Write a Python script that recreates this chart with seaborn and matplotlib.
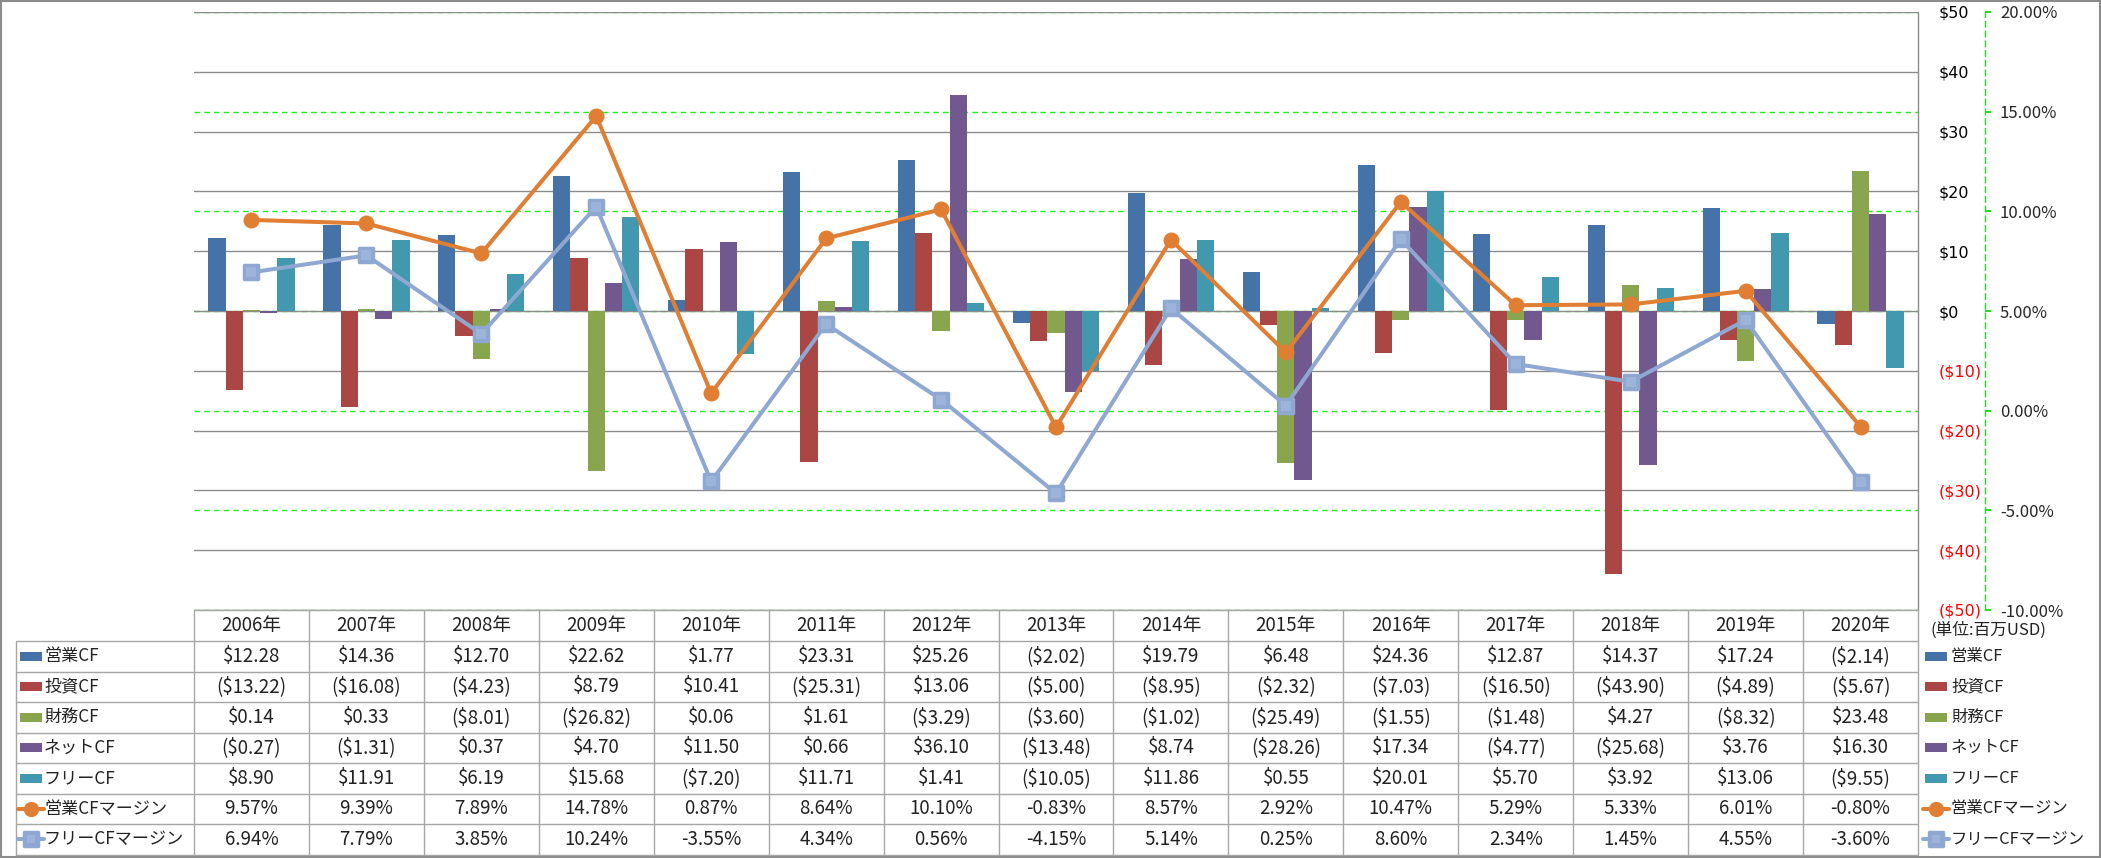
import numpy as np
import pandas as pd
import matplotlib
matplotlib.use("Agg")
import matplotlib.pyplot as plt
import seaborn as sns
from matplotlib.patches import Rectangle
from matplotlib.lines import Line2D
from matplotlib.markers import MarkerStyle

# ---------------- data ----------------
years = [f"{y}年" for y in range(2006, 2021)]
series_names = ["営業CF", "投資CF", "財務CF", "ネットCF", "フリーCF"]
op_cf = [12.28, 14.36, 12.70, 22.62, 1.77, 23.31, 25.26, -2.02, 19.79, 6.48, 24.36, 12.87, 14.37, 17.24, -2.14]
inv_cf = [-13.22, -16.08, -4.23, 8.79, 10.41, -25.31, 13.06, -5.00, -8.95, -2.32, -7.03, -16.50, -43.90, -4.89, -5.67]
fin_cf = [0.14, 0.33, -8.01, -26.82, 0.06, 1.61, -3.29, -3.60, -1.02, -25.49, -1.55, -1.48, 4.27, -8.32, 23.48]
net_cf = [-0.27, -1.31, 0.37, 4.70, 11.50, 0.66, 36.10, -13.48, 8.74, -28.26, 17.34, -4.77, -25.68, 3.76, 16.30]
free_cf = [8.90, 11.91, 6.19, 15.68, -7.20, 11.71, 1.41, -10.05, 11.86, 0.55, 20.01, 5.70, 3.92, 13.06, -9.55]
margin_names = ["営業CFマージン", "フリーCFマージン"]
op_margin = [9.57, 9.39, 7.89, 14.78, 0.87, 8.64, 10.10, -0.83, 8.57, 2.92, 10.47, 5.29, 5.33, 6.01, -0.80]
free_margin = [6.94, 7.79, 3.85, 10.24, -3.55, 4.34, 0.56, -4.15, 5.14, 0.25, 8.60, 2.34, 1.45, 4.55, -3.60]
left_ticks = list(range(-50, 51, 10))
right_ticks = list(range(-10, 21, 5))
unit_label = "(単位:百万USD)"

bar_colors = ["#4572A7", "#AA4643", "#89A54E", "#71588F", "#4198AF"]
line_colors = ["#E07E33", "#8EA8D2"]
square_inner = "#9DB4DA"

# ---------------- figure ----------------
sns.set_theme(style="white")
plt.rcParams["font.family"] = ["Noto Sans CJK JP", "DejaVu Sans"]

W, H = 2101, 858
fig = plt.figure(figsize=(W / 100, H / 100), dpi=100)
fig.patch.set_facecolor("white")
L, R, T, B = 194, 1918, 12, 610
ax = fig.add_axes([L / W, 1 - B / H, (R - L) / W, (B - T) / H])
ax3 = ax.twinx()
ax2 = ax.twinx()
ax3.set_zorder(0)
ax.set_zorder(1)
ax2.set_zorder(2)
ax.patch.set_visible(False)
ax2.patch.set_visible(False)
ax3.patch.set_visible(False)

# bars
all_series = [op_cf, inv_cf, fin_cf, net_cf, free_cf]
df = pd.DataFrame({"年": years * 5,
                   "系列": [s for s in series_names for _ in years],
                   "値": [v for s in all_series for v in s]})
sns.barplot(data=df, x="年", y="値", hue="系列", order=years, hue_order=series_names,
            palette=bar_colors, width=0.75, saturation=1, errorbar=None,
            linewidth=0, legend=False, ax=ax)

# lines
xs = np.arange(len(years))
sq = MarkerStyle("s", joinstyle="round")
sns.lineplot(x=xs, y=op_margin, ax=ax2, color=line_colors[0], marker="o", markersize=11.5,
             linewidth=2.9, markeredgewidth=0)
sns.lineplot(x=xs, y=free_margin, ax=ax2, color=line_colors[1], marker=sq, markersize=10.5,
             linewidth=2.9, markeredgewidth=2.5, markeredgecolor=line_colors[1])
ax2.plot(xs, free_margin, linestyle="none", marker="s", markersize=6.5,
         color=square_inner, markeredgewidth=0)

ax.set_xlim(-0.5, len(years) - 0.5)

# primary axis (dollars, on right)
ax.set_ylim(-50, 50)
ax.set_yticks(left_ticks)
ax.set_yticklabels([f"${v}" if v >= 0 else f"(${-v})" for v in left_ticks])
ax.yaxis.tick_right()
ax.tick_params(axis="y", length=0, pad=15, labelsize=11.5)
for lab, v in zip(ax.get_yticklabels(), left_ticks):
    lab.set_fontfamily("DejaVu Sans")
    lab.set_color("#FF0000" if v < 0 else "black")
ax.tick_params(axis="x", length=0, labelbottom=False)
ax.set_xlabel("")
ax.set_ylabel("")
ax.grid(axis="y", color="#8C8C8C", linewidth=1)
ax.grid(axis="x", visible=False)
ax.set_axisbelow(True)
for s in ["left", "top", "bottom"]:
    ax.spines[s].set_visible(False)
ax.spines["right"].set_color("#8C8C8C")
ax.spines["right"].set_linewidth(1)

# secondary axis (percent) with green dashed grid
ax3.set_ylim(-10, 20)
ax3.set_yticks(right_ticks)
ax3.set_yticklabels([f"{v:.2f}%" for v in right_ticks])
ax3.tick_params(axis="y", direction="out", length=4, color="#00DD00", pad=7, labelsize=12)
for lab, v in zip(ax3.get_yticklabels(), right_ticks):
    lab.set_fontfamily("DejaVu Sans")
    lab.set_color("#FF0000" if v < 0 else "black")
ax3.grid(axis="y", color="#22EE22", linestyle=(0, (4, 3)), linewidth=1)
ax3.tick_params(axis="x", length=0, labelbottom=False)
for s in ["left", "top", "bottom"]:
    ax3.spines[s].set_visible(False)
ax3.spines["right"].set_position(("outward", 48))
ax3.spines["right"].set_linestyle((0, (4, 3)))
ax3.spines["right"].set_color("#22DD22")
ax3.spines["right"].set_linewidth(1)

ax2.set_ylim(-10, 20)
ax2.axis("off")

# ---------------- data table ----------------
tax = fig.add_axes([0, 0, 1, 1], zorder=5)
tax.set_xlim(0, W)
tax.set_ylim(H, 0)
tax.axis("off")
tax.patch.set_visible(False)

gray = "#A6A6A6"
n = len(years)
col_w = (R - L) / n
top = 610
hdr_b = 641
rh = 30.5
bot = hdr_b + 7 * rh
x0 = 16

tax.plot([L, R], [top, top], color=gray, lw=1)
for k in range(8):
    y = hdr_b + k * rh
    tax.plot([x0, R], [y, y], color=gray, lw=1)
tax.plot([x0, x0], [hdr_b, bot], color=gray, lw=1)
for i in range(n + 1):
    x = L + i * col_w
    tax.plot([x, x], [top, bot], color=gray, lw=1)

fs = 13.5
fs_lab = 12.3
fs_leg = 11.8
for i, yl in enumerate(years):
    tax.text(L + (i + 0.5) * col_w, (top + hdr_b) / 2, yl, ha="center", va="center",
             fontsize=fs, color="#222222")


def fmt_money(v):
    return f"${v:.2f}" if v >= 0 else f"(${-v:.2f})"


rows = [(series_names[j], all_series[j], fmt_money, ("bar", bar_colors[j])) for j in range(5)]
rows += [(margin_names[0], op_margin, lambda v: f"{v:.2f}%", ("o", line_colors[0])),
         (margin_names[1], free_margin, lambda v: f"{v:.2f}%", ("s", line_colors[1]))]


def draw_key(xk, yc, kind, color):
    if kind == "bar":
        tax.add_patch(Rectangle((xk, yc - 4.5), 22, 9, color=color, lw=0))
    else:
        tax.add_line(Line2D([xk - 2, xk + 24], [yc, yc], color=color, lw=2.9))
        if kind == "o":
            tax.add_line(Line2D([xk + 11], [yc], color=color, marker="o",
                                markersize=11, markeredgewidth=0))
        else:
            tax.add_line(Line2D([xk + 11], [yc], color=color, marker=sq,
                                markersize=9.5, markeredgewidth=2.5, markeredgecolor=color))
            tax.add_line(Line2D([xk + 11], [yc], color=square_inner, marker="s",
                                markersize=6, markeredgewidth=0))


for k, (name, vals, f, (kind, color)) in enumerate(rows):
    yc = hdr_b + (k + 0.5) * rh
    draw_key(x0 + 4, yc, kind, color)
    tax.text(x0 + 28, yc, name, ha="left", va="center", fontsize=fs_lab, color="#222222")
    for i, v in enumerate(vals):
        tax.text(L + (i + 0.5) * col_w, yc, f(v), ha="center", va="center",
                 fontsize=fs, color="#222222")
    # right legend
    draw_key(1925, yc, kind, color)
    tax.text(1951, yc, name, ha="left", va="center", fontsize=fs_leg, color="#222222")

tax.text(1931, 630, unit_label, ha="left", va="center", fontsize=12, color="#222222")

# outer frame
tax.add_patch(Rectangle((1, 1), W - 2.5, H - 2.5, fill=False, ec="#8C8C8C", lw=1.5))

fig.savefig("out.png", dpi=100, facecolor="white")
